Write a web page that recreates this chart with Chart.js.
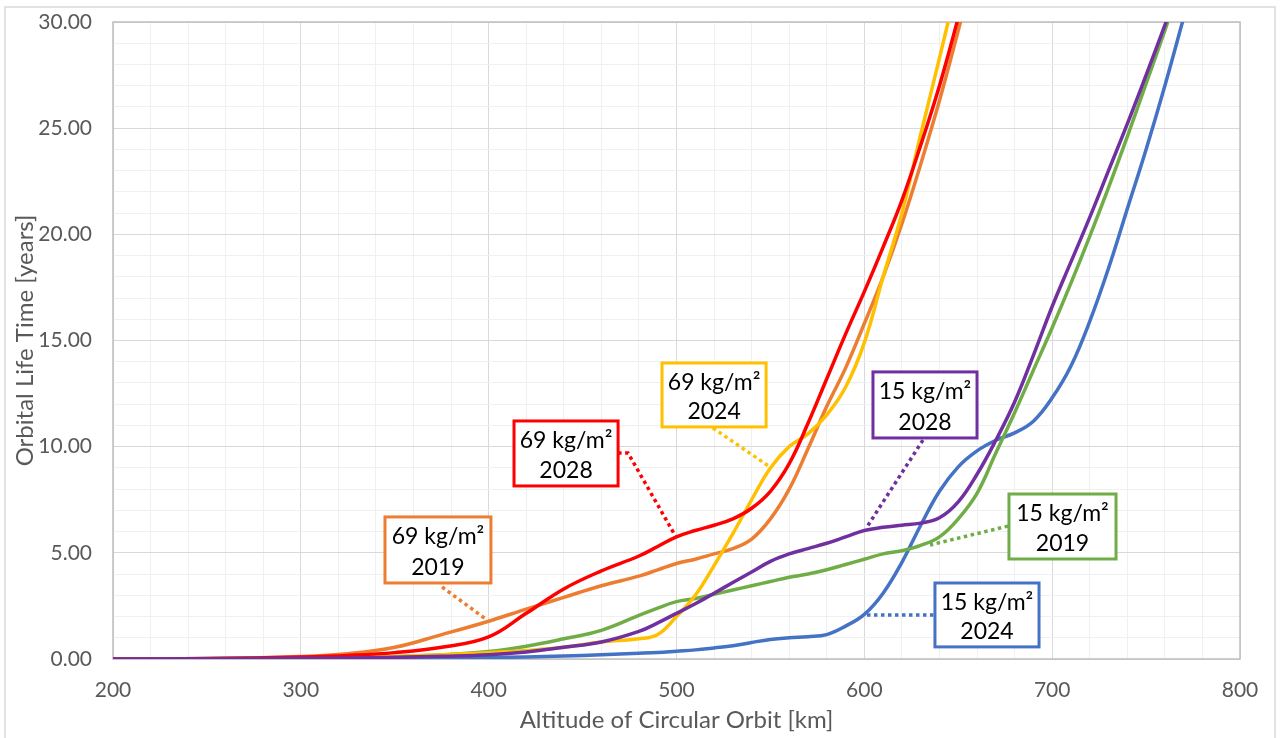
<!DOCTYPE html>
<html>
<head>
<meta charset="utf-8">
<title>Orbital Life Time</title>
<script src="https://cdn.jsdelivr.net/npm/chart.js@4.4.1/dist/chart.umd.min.js"></script>
<style>
    html, body { margin: 0; padding: 0; background: #fff; }
    #wrap { width: 1280px; height: 738px; }
</style>
</head>
<body>
<div id="wrap"><canvas id="orbitChart" width="1280" height="738"></canvas></div>
<script>
(function () {
    'use strict';

    // Altitude grid [km] shared by all series
    var altitudes = [200, 250, 300, 325, 350, 375, 400, 420, 440, 460, 480, 490, 500, 510, 520, 530,
        540, 550, 560, 570, 580, 590, 600, 610, 620, 630, 640, 650, 660, 670, 680, 690, 700, 710,
        720, 730, 740, 750, 760, 770];

    // Orbital life time [years]; null = beyond the top of the chart
    var life69_2019 = [0, 0.02, 0.12, 0.25, 0.55, 1.15, 1.78, 2.35, 2.9, 3.45, 3.9, 4.2, 4.5, 4.7, 4.95, 5.2,
        5.65, 6.6, 8.0, 9.9, 11.9, 13.7, 15.8, 18.0, 20.5, 23.3, 26.3, 29.6, 33, null, null, null, null, null,
        null, null, null, null, null, null];
    var life69_2028 = [0, 0.02, 0.1, 0.17, 0.3, 0.55, 1.04, 2.15, 3.3, 4.15, 4.85, 5.3, 5.75, 6.05, 6.3, 6.6,
        7.1, 7.9, 9.2, 11.1, 13.2, 15.3, 17.3, 19.4, 21.6, 24.2, 27.0, 30.2, 33.5, null, null, null, null, null,
        null, null, null, null, null, null];
    var life69_2024 = [0, 0.01, 0.05, 0.08, 0.12, 0.2, 0.3, 0.4, 0.55, 0.8, 0.95, 1.15, 2.0, 3.0, 4.4, 5.9,
        7.5, 9.0, 10.0, 10.6, 11.5, 12.8, 14.9, 18.0, 21.0, 24.7, 28.3, 32.0, null, null, null, null, null, null,
        null, null, null, null, null, null];
    var life15_2019 = [0, 0.01, 0.04, 0.07, 0.12, 0.2, 0.35, 0.6, 0.95, 1.35, 2.05, 2.4, 2.7, 2.85, 3.05, 3.25,
        3.45, 3.65, 3.85, 4.0, 4.2, 4.45, 4.7, 4.95, 5.1, 5.35, 5.75, 6.6, 7.8, 9.7, 11.6, 13.6, 15.6, 17.7,
        19.9, 22.2, 24.6, 27.1, 29.6, 32.2];
    var life15_2028 = [0, 0.01, 0.03, 0.05, 0.08, 0.13, 0.2, 0.33, 0.55, 0.8, 1.3, 1.7, 2.15, 2.6, 3.1, 3.6,
        4.1, 4.6, 4.95, 5.2, 5.45, 5.75, 6.05, 6.2, 6.3, 6.4, 6.65, 7.4, 8.7, 10.3, 12.1, 14.3, 16.6, 18.7,
        20.8, 23.0, 25.2, 27.5, 29.85, 32.3];
    var life15_2024 = [0, 0.005, 0.01, 0.02, 0.03, 0.05, 0.07, 0.1, 0.14, 0.2, 0.27, 0.31, 0.37, 0.43, 0.52, 0.62,
        0.78, 0.92, 1.0, 1.05, 1.15, 1.55, 2.1, 3.1, 4.55, 6.3, 7.9, 9.05, 9.8, 10.3, 10.65, 11.2, 12.3, 13.8,
        15.9, 18.4, 21.2, 24.0, 27.0, 30.2];

    var xTicks = [200, 300, 400, 500, 600, 700, 800];
    var yTicks = [0, 5, 10, 15, 20, 25, 30];

    // Callout boxes (corners and leader points in data units)
    var callouts = [
        { lines: ['69 kg/m²', '2019'], color: '#ED7D31', box: [344.8, 6.69, 401.2, 3.58], leader: [[375.2, 3.39], [399.1, 1.84]] },
        { lines: ['69 kg/m²', '2028'], color: '#FF0000', box: [413.5, 11.21, 468.9, 8.15], leader: [[468.9, 9.7], [474.2, 9.7], [499.7, 5.75]] },
        { lines: ['69 kg/m²', '2024'], color: '#FFC000', box: [492.3, 13.94, 547.7, 10.93], leader: [[519.4, 10.88], [549.8, 9.04]] },
        { lines: ['15 kg/m²', '2028'], color: '#7030A0', box: [604.6, 13.52, 660.0, 10.41], leader: [[631.2, 10.31], [601.4, 6.22]] },
        { lines: ['15 kg/m²', '2019'], color: '#70AD47', box: [677.0, 7.77, 734.0, 4.71], leader: [[676.5, 6.26], [635.0, 5.37]] },
        { lines: ['15 kg/m²', '2024'], color: '#4472C4', box: [637.6, 3.58, 693.0, 0.57], leader: [[601.4, 2.07], [637.6, 2.07]] }
    ];

    function toPoints(values) {
        var pts = [];
        values.forEach(function (v, i) {
            if (v !== null) pts.push({ x: altitudes[i], y: v });
        });
        return pts;
    }

    function series(label, values, color) {
        return {
            label: label,
            data: toPoints(values),
            borderColor: color,
            borderWidth: 3.5,
            pointRadius: 0,
            fill: false,
            tension: 0.4
        };
    }

    var frame = {
        id: 'frame',
        beforeDraw: function (chart) {
            var ctx = chart.ctx;
            ctx.save();
            ctx.fillStyle = '#fff';
            ctx.fillRect(0, 0, chart.width, chart.height);
            ctx.strokeStyle = '#D9D9D9';
            ctx.lineWidth = 1.5;
            ctx.strokeRect(5, 7, 1270, 740);
            ctx.restore();
        },
        beforeDatasetsDraw: function (chart) {
            var a = chart.chartArea, ctx = chart.ctx;
            ctx.save();
            ctx.strokeStyle = '#BFBFBF';
            ctx.lineWidth = 1.5;
            ctx.strokeRect(a.left, a.top, a.right - a.left, a.bottom - a.top);
            ctx.restore();
        }
    };

    var calloutPlugin = {
        id: 'callouts',
        afterDatasetsDraw: function (chart) {
            var ctx = chart.ctx, xs = chart.scales.x, ys = chart.scales.y;
            ctx.save();
            callouts.forEach(function (c) {
                ctx.strokeStyle = c.color;
                ctx.lineWidth = 3.5;
                ctx.setLineDash([3.5, 3.5]);
                ctx.beginPath();
                c.leader.forEach(function (p, i) {
                    var px = xs.getPixelForValue(p[0]), py = ys.getPixelForValue(p[1]);
                    if (i === 0) ctx.moveTo(px, py); else ctx.lineTo(px, py);
                });
                ctx.stroke();
                ctx.setLineDash([]);

                var x1 = xs.getPixelForValue(c.box[0]), y1 = ys.getPixelForValue(c.box[1]);
                var x2 = xs.getPixelForValue(c.box[2]), y2 = ys.getPixelForValue(c.box[3]);
                ctx.fillStyle = '#fff';
                ctx.fillRect(x1, y1, x2 - x1, y2 - y1);
                ctx.lineWidth = 3;
                ctx.strokeRect(x1, y1, x2 - x1, y2 - y1);

                ctx.fillStyle = '#000';
                ctx.font = '23px Lato, "Open Sans", sans-serif';
                ctx.textAlign = 'center';
                ctx.textBaseline = 'middle';
                var cx = (x1 + x2) / 2, h = y2 - y1;
                ctx.fillText(c.lines[0], cx, y1 + h * 0.3);
                ctx.fillText(c.lines[1], cx, y1 + h * 0.76);
            });
            ctx.restore();
        }
    };

    var tickColor = '#595959';

    new Chart(document.getElementById('orbitChart').getContext('2d'), {
        type: 'line',
        data: {
            datasets: [
                series('15 kg/m² 2028', life15_2028, '#7030A0'),
                series('69 kg/m² 2028', life69_2028, '#FF0000'),
                series('69 kg/m² 2024', life69_2024, '#FFC000'),
                series('69 kg/m² 2019', life69_2019, '#ED7D31'),
                series('15 kg/m² 2019', life15_2019, '#70AD47'),
                series('15 kg/m² 2024', life15_2024, '#4472C4')
            ]
        },
        options: {
            responsive: false,
            animation: false,
            devicePixelRatio: 1,
            layout: { padding: { left: 0, top: 22, right: 40, bottom: 0 } },
            plugins: {
                legend: { display: false },
                tooltip: { enabled: false }
            },
            scales: {
                x: {
                    type: 'linear',
                    min: 200,
                    max: 800,
                    afterFit: function (s) { s.height = 79; },
                    ticks: {
                        stepSize: 20,
                        autoSkip: false,
                        maxRotation: 0,
                        padding: 19,
                        color: tickColor,
                        font: { family: 'Lato', size: 21 },
                        callback: function (v) { return xTicks.indexOf(v) !== -1 ? String(v) : ''; }
                    },
                    grid: {
                        drawTicks: false,
                        color: function (c) { return c.tick && c.tick.value % 100 === 0 ? '#D9D9D9' : '#F0F0F0'; }
                    },
                    border: { display: false },
                    title: {
                        display: true,
                        text: 'Altitude of Circular Orbit [km]',
                        color: tickColor,
                        font: { family: 'Lato', size: 24 },
                        padding: { top: 0, bottom: 3 }
                    }
                },
                y: {
                    min: 0,
                    max: 30,
                    afterFit: function (s) {
                        s.width = 113;
                        s.paddingTop = 0;
                        s.paddingBottom = 0;
                    },
                    ticks: {
                        stepSize: 1,
                        autoSkip: false,
                        padding: 21,
                        color: tickColor,
                        font: { family: 'Lato', size: 21 },
                        callback: function (v) { return yTicks.indexOf(v) !== -1 ? v.toFixed(2) : ''; }
                    },
                    grid: {
                        drawTicks: false,
                        color: function (c) { return c.tick && c.tick.value % 5 === 0 ? '#D9D9D9' : '#F0F0F0'; }
                    },
                    border: { display: false },
                    title: {
                        display: true,
                        text: 'Orbital Life Time [years]',
                        color: tickColor,
                        font: { family: 'Lato', size: 24 },
                        padding: { top: 11, bottom: 0 }
                    }
                }
            }
        },
        plugins: [frame, calloutPlugin]
    });
})();
</script>
</body>
</html>
